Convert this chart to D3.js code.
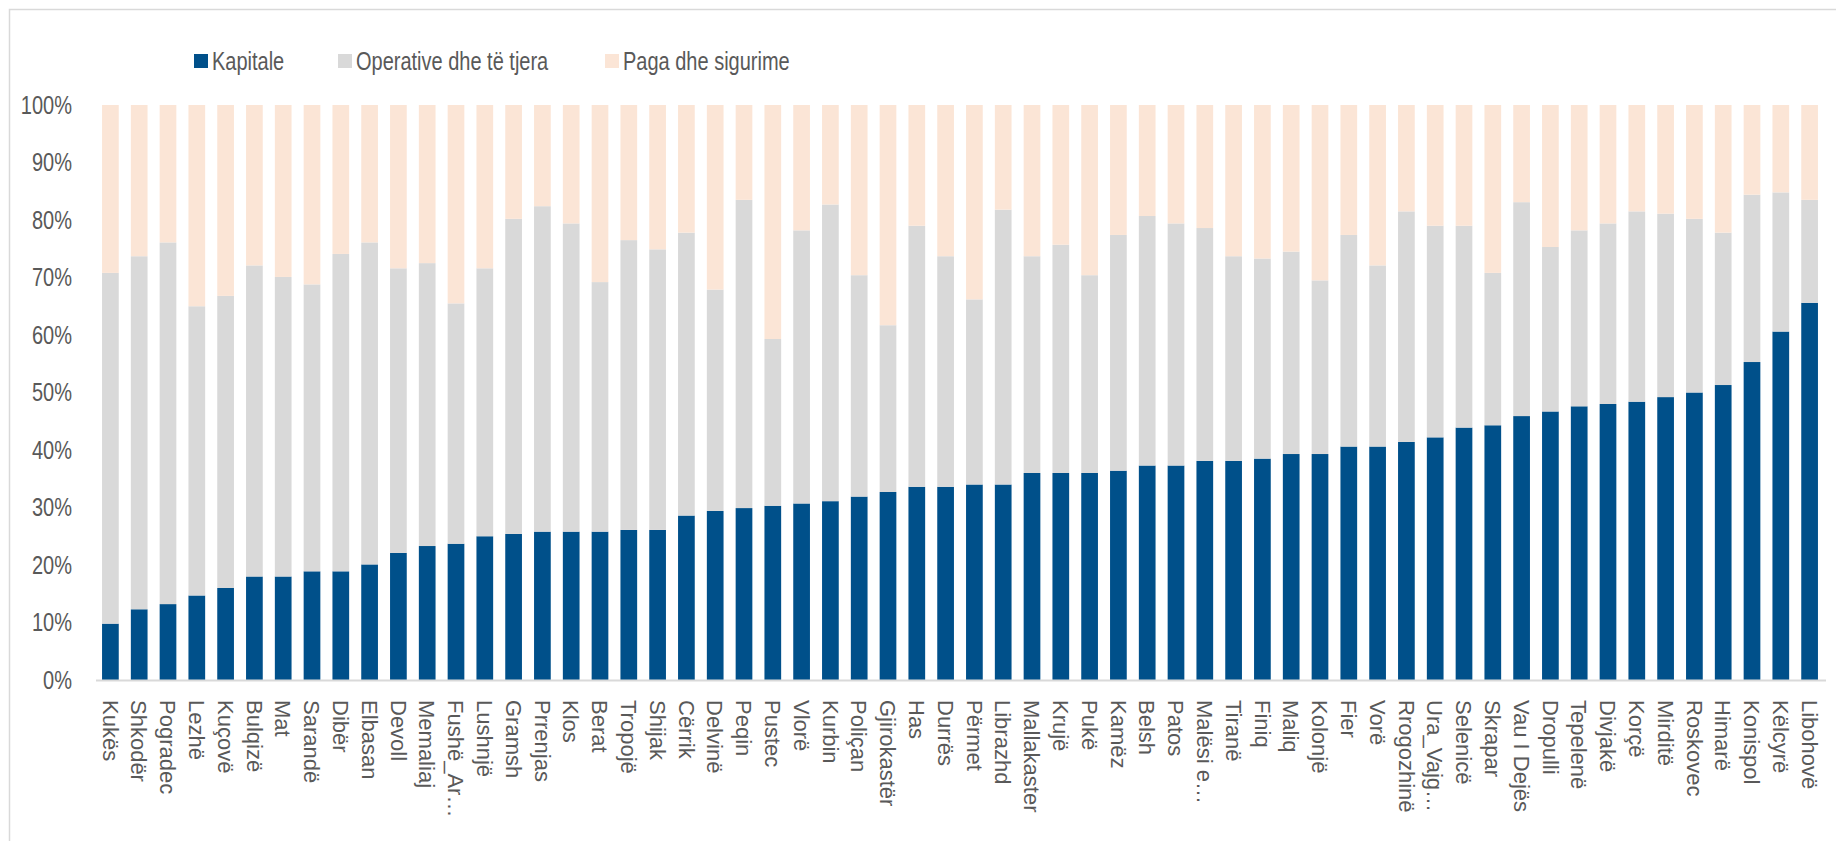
<!DOCTYPE html>
<html>
<head>
<meta charset="utf-8">
<script src="https://cdn.jsdelivr.net/npm/d3@7"></script>
<style>
  body { margin: 0; background: #fff; }
  text { font-family: "Liberation Sans", Arial, sans-serif; }
</style>
</head>
<body>
<div class="canvas"></div>
<script>
// categories (bashkitë), sorted by capital share
const municipalities = ['Kukës', 'Shkodër', 'Pogradec', 'Lezhë', 'Kuçovë', 'Bulqizë', 'Mat', 'Sarandë', 'Dibër', 'Elbasan',
  'Devoll', 'Memaliaj', 'Fushë_Ar…', 'Lushnjë', 'Gramsh', 'Prrenjas', 'Klos', 'Berat', 'Tropojë', 'Shijak',
  'Cërrik', 'Delvinë', 'Peqin', 'Pustec', 'Vlorë', 'Kurbin', 'Poliçan', 'Gjirokastër', 'Has', 'Durrës',
  'Përmet', 'Librazhd', 'Mallakaster', 'Krujë', 'Pukë', 'Kamëz', 'Belsh', 'Patos', 'Malësi e…', 'Tiranë',
  'Finiq', 'Maliq', 'Kolonjë', 'Fier', 'Vorë', 'Rrogozhinë', 'Ura_Vajg…', 'Selenicë', 'Skrapar', 'Vau I Dejës',
  'Dropulli', 'Tepelenë', 'Divjakë', 'Korçë', 'Mirditë', 'Roskovec', 'Himarë', 'Konispol', 'Këlcyrë', 'Libohovë'];

// shares in %
const kapitale = [9.8, 12.3, 13.2, 14.7, 16.0, 18.0, 18.0, 18.9, 18.9, 20.1,
  22.1, 23.3, 23.7, 25.0, 25.4, 25.8, 25.8, 25.8, 26.1, 26.1,
  28.6, 29.4, 29.9, 30.3, 30.7, 31.1, 31.9, 32.7, 33.6, 33.6,
  34.0, 34.0, 36.0, 36.0, 36.0, 36.4, 37.3, 37.3, 38.1, 38.1,
  38.5, 39.3, 39.3, 40.6, 40.6, 41.4, 42.2, 43.9, 44.3, 45.9,
  46.7, 47.6, 48.0, 48.4, 49.2, 50.0, 51.3, 55.3, 60.6, 65.6];

const operative = [61.0, 61.4, 62.9, 50.3, 50.8, 54.1, 52.1, 49.9, 55.2, 56.0,
  49.5, 49.2, 41.8, 46.6, 54.8, 56.6, 53.6, 43.4, 50.4, 48.8,
  49.2, 38.5, 53.6, 29.0, 47.5, 51.6, 38.5, 29.0, 45.4, 40.1,
  32.2, 47.8, 37.7, 39.7, 34.4, 41.0, 43.4, 42.1, 40.5, 35.6,
  34.8, 35.2, 30.2, 36.8, 31.5, 40.1, 36.8, 35.1, 26.5, 37.2,
  28.6, 30.6, 31.4, 33.1, 31.9, 30.2, 26.5, 29.1, 24.2, 17.9];

const paga = [29.2, 26.3, 23.9, 35.0, 33.2, 27.9, 29.9, 31.2, 25.9, 23.9,
  28.4, 27.5, 34.5, 28.4, 19.8, 17.6, 20.6, 30.8, 23.5, 25.1,
  22.2, 32.1, 16.5, 40.7, 21.8, 17.3, 29.6, 38.3, 21.0, 26.3,
  33.8, 18.2, 26.3, 24.3, 29.6, 22.6, 19.3, 20.6, 21.4, 26.3,
  26.7, 25.5, 30.5, 22.6, 27.9, 18.5, 21.0, 21.0, 29.2, 16.9,
  24.7, 21.8, 20.6, 18.5, 18.9, 19.8, 22.2, 15.6, 15.2, 16.5];

const seriesNames = ['Kapitale', 'Operative dhe të tjera', 'Paga dhe sigurime'];
const seriesColours = ['#00508A', '#D9D9D9', '#FBE5D6'];
const yTicks = [0, 10, 20, 30, 40, 50, 60, 70, 80, 90, 100];

const width = 1836, height = 841;
const plot = { left: 96, right: 1824, top: 105, bottom: 680 };
const narrow = 0.8; // horizontal squeeze for the condensed labels

const svg = d3.select('.canvas')
  .append('svg')
  .attr('width', width)
  .attr('height', height);

// chart frame (runs off the right and bottom edge)
svg.append('path')
  .attr('d', `M9.5,${height} V9.5 H${width}`)
  .attr('fill', 'none')
  .attr('stroke', '#D9D9D9')
  .attr('stroke-width', 1.5);

// build table for the stack
const table = municipalities.map((name, i) => ({
  name: name,
  [seriesNames[0]]: kapitale[i],
  [seriesNames[1]]: operative[i],
  [seriesNames[2]]: paga[i]
}));

const stack = d3.stack().keys(seriesNames)
  .offset(d3.stackOffsetExpand);
const stacked = stack(table);

const x = d3.scaleBand()
  .domain(municipalities)
  .range([plot.left, plot.right])
  .paddingInner(0.42)
  .paddingOuter(0.21);

const y = d3.scaleLinear()
  .domain([0, 1])
  .range([plot.bottom, plot.top]);

const colour = d3.scaleOrdinal()
  .domain(seriesNames)
  .range(seriesColours);

// bars
const layers = svg.append('g')
  .selectAll('g')
  .data(stacked)
  .enter()
  .append('g')
  .attr('fill', d => colour(d.key));

layers.selectAll('rect')
  .data(d => d)
  .enter()
  .append('rect')
  .attr('x', d => x(d.data.name))
  .attr('width', x.bandwidth())
  .attr('y', d => y(d[1]))
  .attr('height', d => y(d[0]) - y(d[1]));

// y axis labels
const yAxis = d3.axisLeft(y)
  .tickValues(yTicks.map(t => t / 100))
  .tickFormat(d => Math.round(d * 100) + '%')
  .tickSize(0)
  .tickPadding(0);

const yg = svg.append('g')
  .attr('transform', 'translate(72,0)')
  .call(yAxis);
yg.select('.domain').remove();
yg.selectAll('text')
  .attr('font-family', null)
  .attr('font-size', 25)
  .attr('fill', '#595959')
  .attr('transform', `scale(${narrow},1)`);

// x axis line
svg.append('line')
  .attr('x1', plot.left)
  .attr('x2', plot.right + 2)
  .attr('y1', y(0) + 0.5)
  .attr('y2', y(0) + 0.5)
  .attr('stroke', '#D9D9D9')
  .attr('stroke-width', 2);

// x labels, rotated to read downwards
const xAxis = d3.axisBottom(x).tickSize(0).tickPadding(0);
const xg = svg.append('g')
  .attr('transform', `translate(0,${plot.bottom})`)
  .call(xAxis);
xg.select('.domain').remove();
xg.selectAll('text')
  .attr('font-family', null)
  .attr('font-size', 22)
  .attr('fill', '#595959')
  .attr('text-anchor', 'start')
  .attr('x', 20)
  .attr('y', 0)
  .attr('dy', '0.35em')
  .attr('transform', 'rotate(90)');

// legend
const legendX = [194, 338, 605];
const legend = svg.append('g')
  .selectAll('g')
  .data(seriesNames)
  .enter()
  .append('g')
  .attr('transform', (d, i) => `translate(${legendX[i]},54)`);

legend.append('rect')
  .attr('width', 14)
  .attr('height', 14)
  .attr('fill', d => colour(d));

legend.append('text')
  .attr('transform', `translate(18,16) scale(${narrow},1)`)
  .attr('font-size', 25)
  .attr('fill', '#595959')
  .text(d => d);
</script>
</body>
</html>
